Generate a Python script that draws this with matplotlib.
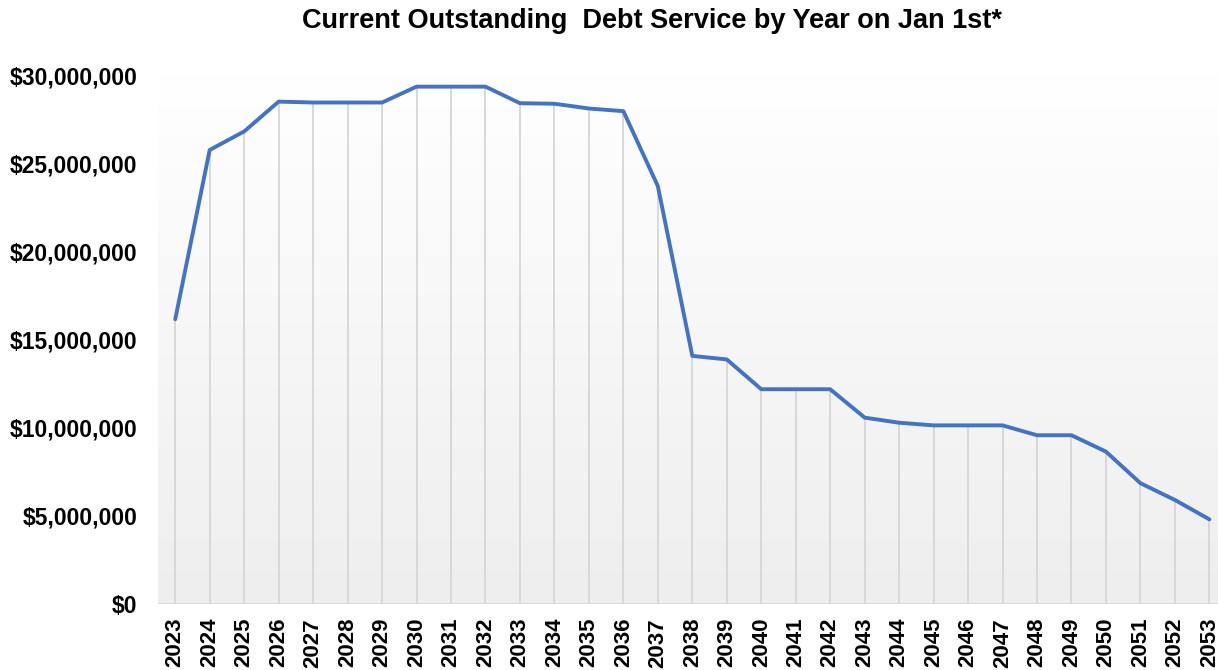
import numpy as np
import matplotlib.pyplot as plt
from matplotlib.colors import LinearSegmentedColormap
from matplotlib.ticker import FuncFormatter

plt.rcParams['font.family'] = ['Liberation Sans', 'DejaVu Sans']

years = [str(y) for y in range(2023, 2054)]
# debt service in millions of dollars
debt_service = [16.15, 25.75, 26.8, 28.49, 28.44, 28.44, 28.44, 29.34, 29.34, 29.34,
                28.4, 28.37, 28.1, 27.95, 23.7, 14.07, 13.87, 12.18, 12.18, 12.18,
                10.57, 10.28, 10.13, 10.13, 10.13, 9.57, 9.57, 8.64, 6.85, 5.9, 4.8]

values = np.array(debt_service) * 1e6
x = np.arange(len(years))

fig = plt.figure(figsize=(12.18, 6.70), dpi=100)
ax = fig.add_axes([158 / 1218, 66 / 670, 1060 / 1218, 529 / 670])

xmin, xmax = -0.5, 30.25
ymin, ymax = 0, 30e6

# white-to-grey fill behind the plot area
grad = np.linspace(1, 0, 256).reshape(-1, 1)
cmap = LinearSegmentedColormap.from_list('bg', ['#eeeeee', '#ffffff'])
ax.imshow(grad, cmap=cmap, aspect='auto', extent=[xmin, xmax, ymin, ymax],
          origin='upper', zorder=0, vmin=0, vmax=1)

# drop lines from each point to the axis
ax.vlines(x, 0, values, color='#d6d6d6', linewidth=1.3, zorder=1)
ax.plot(x, values, color='#4472C4', linewidth=2.8, solid_joinstyle='round',
        solid_capstyle='round', zorder=3)
ax.axhline(0, color='#d9d9d9', linewidth=1.5, zorder=2)

ax.set_xlim(xmin, xmax)
ax.set_ylim(ymin, ymax)
ax.set_xticks(x)
ax.set_xticklabels(years, rotation=90, fontsize=16, fontweight='bold')
ax.set_yticks(np.arange(0, 30e6 + 1, 5e6))
ax.yaxis.set_major_formatter(FuncFormatter(lambda v, p: f"${v:,.0f}"))
for lbl in ax.get_yticklabels():
    lbl.set_fontsize(16.5)
    lbl.set_fontweight('bold')
ax.tick_params(axis='both', length=0)
ax.tick_params(axis='x', pad=10)
ax.tick_params(axis='y', pad=15)
for s in ax.spines.values():
    s.set_visible(False)

fig.text(652 / 1218, 1 - 21 / 670, "Current Outstanding  Debt Service by Year on Jan 1st*",
         ha='center', va='center', fontsize=19.5, fontweight='bold')

fig.savefig('out.png', dpi=100)
